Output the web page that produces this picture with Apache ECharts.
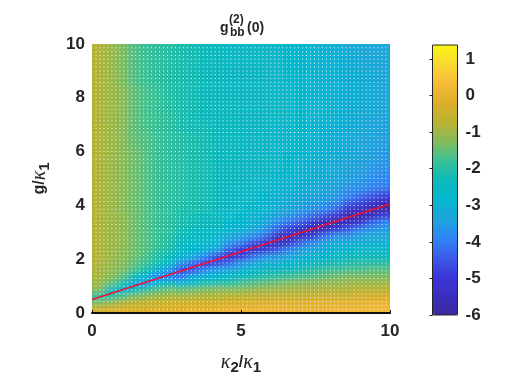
<!DOCTYPE html>
<html>
<head>
<meta charset="utf-8">
<script src="https://cdn.jsdelivr.net/npm/echarts@6/dist/echarts.min.js"></script>
<style>
	html, body { margin: 0; padding: 0; background: #fff; }
	#result { width: 526px; height: 380px; }
	/* the source is a shaded surface, soften the cells and cut back to the plot box */
	#result canvas[data-zr-dom-id="zr_-1"] {
		filter: url(#soften);
		clip-path: inset(44px 136px 67px 92px);
	}
</style>
</head>
<body>
<svg width="0" height="0" style="position:absolute"><filter id="soften" x="0" y="0" width="100%" height="100%"><feGaussianBlur stdDeviation="3.5 2"/></filter></svg>
<div id="result"></div>
<script>
// cell centres of the image, 25 columns x 40 rows
var kappaCells = ['0.2', '0.6', '1.0', '1.4', '1.8', '2.2', '2.6', '3.0', '3.4', '3.8', '4.2', '4.6', '5.0', '5.4', '5.8', '6.2', '6.6', '7.0', '7.4', '7.8', '8.2', '8.6', '9.0', '9.4', '9.8'];
var gCells = ['0.125', '0.375', '0.625', '0.875', '1.125', '1.375', '1.625', '1.875', '2.125', '2.375', '2.625', '2.875', '3.125', '3.375', '3.625', '3.875', '4.125', '4.375', '4.625', '4.875', '5.125', '5.375', '5.625', '5.875', '6.125', '6.375', '6.625', '6.875', '7.125', '7.375', '7.625', '7.875', '8.125', '8.375', '8.625', '8.875', '9.125', '9.375', '9.625', '9.875'];

// one line per column, bottom to top
var g2Columns = [
	[-0.4,-1.2,-1.9,-1.3,-1.0,-0.9,-0.9,-0.8,-0.8,-0.8,-0.8,-0.8,-0.8,-0.8,-0.8,-0.8,-0.8,-0.8,-0.8,-0.8,-0.8,-0.8,-0.8,-0.8,-0.8,-0.8,-0.8,-0.8,-0.8,-0.8,-0.8,-0.8,-0.8,-0.8,-0.8,-0.8,-0.8,-0.8,-0.8,-0.8],
	[-0.3,-1.0,-2.0,-2.2,-1.5,-1.2,-1.1,-1.1,-1.0,-1.0,-1.0,-1.0,-1.0,-1.0,-1.0,-1.0,-1.0,-1.0,-1.0,-1.0,-1.0,-1.0,-1.0,-1.0,-1.0,-1.0,-1.0,-1.0,-1.0,-1.0,-1.0,-1.0,-1.0,-1.0,-1.0,-1.0,-1.0,-1.0,-1.0,-1.0],
	[-0.2,-0.8,-1.6,-3.0,-2.0,-1.5,-1.3,-1.2,-1.2,-1.2,-1.1,-1.1,-1.1,-1.1,-1.1,-1.2,-1.2,-1.2,-1.2,-1.2,-1.2,-1.2,-1.2,-1.2,-1.2,-1.2,-1.2,-1.2,-1.2,-1.2,-1.2,-1.2,-1.2,-1.2,-1.3,-1.3,-1.3,-1.3,-1.3,-1.3],
	[-0.2,-0.7,-1.3,-2.4,-3.2,-2.2,-1.7,-1.5,-1.4,-1.4,-1.4,-1.4,-1.4,-1.4,-1.4,-1.4,-1.4,-1.4,-1.4,-1.4,-1.4,-1.4,-1.4,-1.4,-1.4,-1.5,-1.5,-1.5,-1.5,-1.5,-1.5,-1.5,-1.5,-1.5,-1.6,-1.6,-1.6,-1.6,-1.6,-1.6],
	[-0.2,-0.6,-1.1,-1.9,-3.6,-2.9,-2.1,-1.8,-1.7,-1.6,-1.6,-1.6,-1.6,-1.6,-1.6,-1.6,-1.6,-1.6,-1.6,-1.6,-1.6,-1.6,-1.6,-1.6,-1.6,-1.6,-1.6,-1.7,-1.7,-1.7,-1.7,-1.7,-1.7,-1.7,-1.8,-1.8,-1.8,-1.8,-1.8,-1.8],
	[-0.1,-0.5,-1.0,-1.6,-2.8,-3.9,-2.9,-2.2,-2.0,-1.9,-1.8,-1.8,-1.8,-1.8,-1.8,-1.8,-1.8,-1.8,-1.8,-1.8,-1.8,-1.8,-1.8,-1.8,-1.8,-1.8,-1.8,-1.8,-1.8,-1.8,-1.8,-1.8,-1.8,-1.9,-1.9,-1.9,-1.9,-1.9,-1.9,-1.9],
	[-0.1,-0.4,-0.9,-1.4,-2.3,-3.9,-3.6,-2.6,-2.3,-2.1,-2.0,-2.0,-1.9,-1.9,-1.9,-1.9,-1.9,-1.9,-1.9,-1.9,-1.9,-1.9,-1.9,-1.9,-1.9,-1.9,-1.9,-1.9,-1.9,-1.9,-2.0,-2.0,-2.0,-2.0,-2.0,-2.0,-2.0,-2.0,-2.0,-2.0],
	[-0.1,-0.4,-0.9,-1.5,-2.7,-4.0,-4.7,-3.6,-2.9,-2.6,-2.4,-2.3,-2.2,-2.1,-2.1,-2.1,-2.0,-2.0,-2.0,-2.0,-2.0,-2.0,-2.0,-2.0,-2.0,-2.0,-2.0,-2.1,-2.1,-2.1,-2.1,-2.1,-2.1,-2.1,-2.1,-2.1,-2.1,-2.1,-2.1,-2.1],
	[0.0,-0.3,-0.8,-1.4,-2.5,-3.2,-4.6,-4.3,-3.2,-2.8,-2.6,-2.4,-2.3,-2.2,-2.2,-2.1,-2.1,-2.1,-2.1,-2.1,-2.1,-2.1,-2.1,-2.1,-2.1,-2.1,-2.1,-2.2,-2.2,-2.2,-2.2,-2.2,-2.2,-2.2,-2.2,-2.2,-2.2,-2.2,-2.2,-2.2],
	[0.0,-0.3,-0.8,-1.3,-2.1,-2.9,-3.9,-4.9,-3.9,-3.0,-2.7,-2.5,-2.4,-2.3,-2.3,-2.2,-2.2,-2.2,-2.2,-2.2,-2.2,-2.2,-2.2,-2.2,-2.2,-2.2,-2.2,-2.2,-2.3,-2.3,-2.3,-2.3,-2.3,-2.3,-2.3,-2.3,-2.3,-2.3,-2.3,-2.3],
	[0.0,-0.3,-0.8,-1.2,-2.0,-2.7,-3.4,-4.7,-4.6,-3.4,-2.9,-2.7,-2.5,-2.4,-2.4,-2.3,-2.3,-2.3,-2.3,-2.3,-2.3,-2.3,-2.3,-2.3,-2.3,-2.3,-2.3,-2.3,-2.4,-2.4,-2.4,-2.4,-2.4,-2.4,-2.4,-2.4,-2.4,-2.4,-2.4,-2.4],
	[0.1,-0.2,-0.7,-1.2,-2.0,-2.6,-3.3,-4.3,-5.3,-4.4,-3.6,-3.2,-2.9,-2.8,-2.7,-2.6,-2.5,-2.5,-2.5,-2.4,-2.4,-2.4,-2.4,-2.4,-2.4,-2.4,-2.4,-2.4,-2.4,-2.4,-2.4,-2.4,-2.4,-2.5,-2.5,-2.5,-2.5,-2.5,-2.5,-2.5],
	[0.1,-0.2,-0.7,-1.2,-1.7,-2.4,-3.0,-3.7,-4.9,-5.0,-4.0,-3.4,-3.0,-2.8,-2.8,-2.7,-2.6,-2.6,-2.5,-2.5,-2.5,-2.5,-2.5,-2.5,-2.5,-2.5,-2.5,-2.5,-2.5,-2.5,-2.5,-2.5,-2.5,-2.5,-2.5,-2.5,-2.5,-2.5,-2.5,-2.5],
	[0.1,-0.2,-0.6,-1.1,-1.6,-2.2,-2.7,-3.3,-4.2,-5.4,-4.6,-3.7,-3.3,-3.0,-2.9,-2.8,-2.7,-2.7,-2.6,-2.6,-2.6,-2.5,-2.5,-2.5,-2.5,-2.5,-2.5,-2.5,-2.5,-2.5,-2.5,-2.5,-2.5,-2.5,-2.5,-2.6,-2.6,-2.6,-2.6,-2.6],
	[0.1,-0.1,-0.6,-1.0,-1.5,-2.0,-2.5,-3.0,-3.7,-4.9,-5.3,-4.2,-3.6,-3.2,-3.0,-2.9,-2.8,-2.8,-2.7,-2.7,-2.6,-2.6,-2.6,-2.6,-2.6,-2.6,-2.6,-2.6,-2.6,-2.6,-2.6,-2.6,-2.6,-2.6,-2.6,-2.6,-2.6,-2.6,-2.6,-2.6],
	[0.1,-0.1,-0.5,-1.0,-1.4,-1.9,-2.4,-3.0,-3.6,-4.5,-5.6,-5.3,-4.3,-3.8,-3.4,-3.2,-3.0,-3.0,-2.9,-2.9,-2.8,-2.7,-2.7,-2.7,-2.7,-2.7,-2.7,-2.7,-2.7,-2.6,-2.6,-2.6,-2.7,-2.7,-2.7,-2.7,-2.7,-2.7,-2.7,-2.7],
	[0.1,-0.1,-0.5,-0.9,-1.3,-1.8,-2.3,-2.8,-3.3,-3.9,-5.0,-5.6,-4.8,-4.1,-3.6,-3.3,-3.2,-3.0,-3.0,-2.9,-2.8,-2.8,-2.8,-2.8,-2.7,-2.7,-2.7,-2.7,-2.7,-2.7,-2.7,-2.7,-2.7,-2.7,-2.8,-2.8,-2.8,-2.8,-2.8,-2.8],
	[0.1,-0.1,-0.5,-0.9,-1.2,-1.7,-2.2,-2.7,-3.1,-3.5,-4.3,-5.5,-5.4,-4.4,-3.9,-3.5,-3.3,-3.2,-3.1,-3.0,-2.9,-2.9,-2.9,-2.8,-2.8,-2.8,-2.8,-2.8,-2.8,-2.8,-2.8,-2.8,-2.8,-2.8,-2.8,-2.8,-2.8,-2.8,-2.8,-2.8],
	[0.1,0.0,-0.4,-0.9,-1.2,-1.6,-2.0,-2.5,-2.9,-3.3,-3.8,-4.9,-5.7,-5.0,-4.2,-3.7,-3.4,-3.3,-3.2,-3.1,-3.0,-3.0,-3.0,-2.9,-2.9,-2.9,-2.9,-2.9,-2.9,-2.9,-2.9,-2.9,-2.9,-2.9,-2.9,-2.9,-2.9,-2.9,-2.9,-2.9],
	[0.1,0.0,-0.4,-0.8,-1.1,-1.5,-1.9,-2.4,-2.8,-3.1,-3.4,-4.2,-5.4,-5.5,-4.6,-3.9,-3.6,-3.4,-3.3,-3.2,-3.1,-3.1,-3.1,-3.0,-3.0,-3.0,-3.0,-3.0,-2.9,-2.9,-2.9,-2.9,-2.9,-3.0,-3.0,-3.0,-3.0,-3.0,-3.0,-3.0],
	[0.2,0.0,-0.4,-0.8,-1.1,-1.4,-1.8,-2.2,-2.6,-2.9,-3.2,-3.7,-4.8,-5.8,-5.1,-4.3,-3.8,-3.5,-3.4,-3.3,-3.2,-3.2,-3.2,-3.1,-3.1,-3.1,-3.1,-3.0,-3.0,-3.0,-3.0,-3.0,-3.0,-3.0,-3.0,-3.0,-3.0,-3.0,-3.0,-3.1],
	[0.2,0.0,-0.4,-0.8,-1.0,-1.3,-1.7,-2.1,-2.4,-2.8,-3.1,-3.7,-4.4,-5.4,-5.7,-5.0,-4.4,-3.9,-3.7,-3.5,-3.4,-3.4,-3.3,-3.2,-3.2,-3.2,-3.2,-3.1,-3.1,-3.1,-3.1,-3.1,-3.1,-3.1,-3.1,-3.1,-3.1,-3.1,-3.1,-3.2],
	[0.2,0.0,-0.3,-0.7,-1.0,-1.3,-1.7,-2.0,-2.4,-2.7,-3.0,-3.4,-3.9,-4.9,-5.9,-5.4,-4.7,-4.2,-3.8,-3.6,-3.5,-3.4,-3.4,-3.3,-3.3,-3.3,-3.2,-3.2,-3.2,-3.2,-3.1,-3.1,-3.1,-3.1,-3.1,-3.1,-3.2,-3.2,-3.2,-3.2],
	[0.2,0.1,-0.3,-0.7,-1.0,-1.3,-1.6,-2.0,-2.3,-2.7,-3.0,-3.3,-3.6,-4.3,-5.4,-5.8,-5.1,-4.5,-4.0,-3.8,-3.7,-3.6,-3.5,-3.4,-3.4,-3.4,-3.3,-3.3,-3.3,-3.2,-3.2,-3.2,-3.2,-3.2,-3.2,-3.2,-3.2,-3.3,-3.3,-3.3],
	[0.2,0.1,-0.3,-0.7,-1.0,-1.3,-1.6,-2.0,-2.3,-2.7,-3.0,-3.3,-3.5,-3.9,-4.8,-5.8,-5.5,-4.8,-4.2,-3.9,-3.8,-3.7,-3.6,-3.6,-3.5,-3.5,-3.4,-3.4,-3.3,-3.3,-3.3,-3.3,-3.3,-3.3,-3.3,-3.3,-3.3,-3.3,-3.3,-3.3]
];

// the red line over the valley
var ridgeKappa = [0, 10];
var ridgeG = [0.5, 4.05];

var xTicks = [0, 5, 10];
var yTicks = [0, 2, 4, 6, 8, 10];
var barTicks = [-6, -5, -4, -3, -2, -1, 0, 1];
var barMin = -6;
var barMax = 1.38;
var barColors = ['#3a2a9c', '#3a2ec0', '#3b37d8', '#3c5ce8', '#2f85f5', '#1ea4dc', '#05b7cf', '#0cb9bb', '#3ac196', '#85bb5a', '#b9b22f', '#dcae2a', '#f8bb38', '#f8d830', '#f9f716'];

// plot box, and the image grid one cell wider on each side so the blur has no white edge
var plotLeft = 92, plotTop = 44, plotWidth = 298, plotHeight = 269.5;
var cellW = plotWidth / kappaCells.length;
var cellH = plotHeight / gCells.length;

var heatData = [];
var lastCol = g2Columns.length + 1;
var lastRow = gCells.length + 1;
for (var ci = 0; ci <= lastCol; ci++) {
	var col = g2Columns[Math.min(Math.max(ci - 1, 0), g2Columns.length - 1)];
	for (var ri = 0; ri <= lastRow; ri++) {
		heatData.push([ci, ri, col[Math.min(Math.max(ri - 1, 0), col.length - 1)]]);
	}
}

// white mesh specks of the original surface plot
var meshData = [];
for (var mi = 1; mi < 75; mi++) {
	for (var mj = 1; mj < 70; mj++) {
		meshData.push([mi / 7.5, mj / 7]);
	}
}

var inkColor = '#262626';
var fontName = '"Liberation Sans", Arial, sans-serif';
var tickFont = { fontFamily: fontName, fontWeight: 'bold', fontSize: 17, color: inkColor };
var mathRich = {
	k: { fontFamily: '"Liberation Serif", serif', fontStyle: 'italic', fontSize: 20, color: inkColor },
	t: { fontFamily: fontName, fontWeight: 'bold', fontSize: 16, color: inkColor },
	s: { fontFamily: fontName, fontWeight: 'bold', fontSize: 15, color: inkColor, verticalAlign: 'top', padding: [9, 0, 0, 0] }
};

var myChart = echarts.init(document.getElementById('result'), null, { renderer: 'canvas' });

var option = {
	animation: false,
	backgroundColor: '#fff',
	grid: [
		{ left: plotLeft, top: plotTop, width: plotWidth, height: plotHeight },
		{ left: 432.5, top: 45, width: 25, height: 270, z: 10, show: true, backgroundColor: 'transparent', borderColor: inkColor, borderWidth: 1 },
		{ left: plotLeft - cellW, top: plotTop - cellH, width: plotWidth + 2 * cellW, height: plotHeight + 2 * cellH }
	],
	xAxis: [
		{ type: 'category', gridIndex: 2, data: [''].concat(kappaCells, ['']), show: false },
		{
			type: 'value', gridIndex: 0, min: 0, max: 10, interval: 5, position: 'bottom',
			axisLine: { show: true, lineStyle: { color: '#111', width: 2 } },
			axisTick: { show: true, inside: true, length: 3, lineStyle: { color: '#111' } },
			axisLabel: Object.assign({ margin: 10, customValues: xTicks }, tickFont),
			splitLine: { show: false },
			name: '{k|κ}{s|2}{t|/}{k|κ}{s|1}',
			nameLocation: 'middle',
			nameGap: 38,
			nameTextStyle: { rich: mathRich }
		},
		{ type: 'value', gridIndex: 1, min: 0, max: 1, show: false }
	],
	yAxis: [
		{ type: 'category', gridIndex: 2, data: [''].concat(gCells, ['']), show: false },
		{
			type: 'value', gridIndex: 0, min: 0, max: 10, interval: 2, position: 'left',
			axisLine: { show: false },
			axisTick: { show: false },
			axisLabel: Object.assign({ margin: 7, customValues: yTicks }, tickFont),
			splitLine: { show: false },
			name: '{t|g/}{k|κ}{s|1}',
			nameLocation: 'middle',
			nameGap: 40,
			nameRotate: 90,
			nameTextStyle: { rich: mathRich }
		},
		{
			type: 'value', gridIndex: 1, min: barMin, max: barMax, position: 'right',
			axisLine: { show: false },
			axisTick: { show: true, inside: true, length: 3, customValues: barTicks, lineStyle: { color: inkColor } },
			axisLabel: Object.assign({ margin: 8, customValues: barTicks }, tickFont),
			splitLine: { show: false }
		}
	],
	visualMap: {
		type: 'continuous',
		seriesIndex: 0,
		min: barMin,
		max: barMax,
		calculable: false,
		realtime: false,
		hoverLink: false,
		showLabel: false,
		text: null,
		left: 432.5,
		top: 45,
		itemWidth: 25,
		itemHeight: 270,
		padding: 0,
		inRange: { color: barColors }
	},
	graphic: [
		{ type: 'text', left: 220, top: 21, style: { text: 'g', font: 'bold 14px "Liberation Sans"', fill: inkColor } },
		{ type: 'text', left: 229, top: 14, style: { text: '(2)', font: 'bold 12px "Liberation Sans"', fill: inkColor } },
		{ type: 'text', left: 230, top: 27, style: { text: 'bb', font: 'bold 12px "Liberation Sans"', fill: inkColor } },
		{ type: 'text', left: 247, top: 21, style: { text: '(0)', font: 'bold 14px "Liberation Sans"', fill: inkColor } }
	],
	series: [
		{
			type: 'heatmap',
			xAxisIndex: 0,
			yAxisIndex: 0,
			data: heatData,
			silent: true,
			zlevel: -1,
			itemStyle: { borderWidth: 0 }
		},
		{
			type: 'scatter',
			xAxisIndex: 1,
			yAxisIndex: 1,
			data: meshData,
			symbol: 'rect',
			symbolSize: 1,
			silent: true,
			itemStyle: { color: '#fff', opacity: 0.9 }
		},
		{
			type: 'line',
			xAxisIndex: 1,
			yAxisIndex: 1,
			data: ridgeKappa.map(function (k, i) { return [k, ridgeG[i]]; }),
			symbol: 'none',
			silent: true,
			lineStyle: { color: '#ee1133', width: 1.5 },
			z: 5
		}
	]
};

myChart.setOption(option);
</script>
</body>
</html>
